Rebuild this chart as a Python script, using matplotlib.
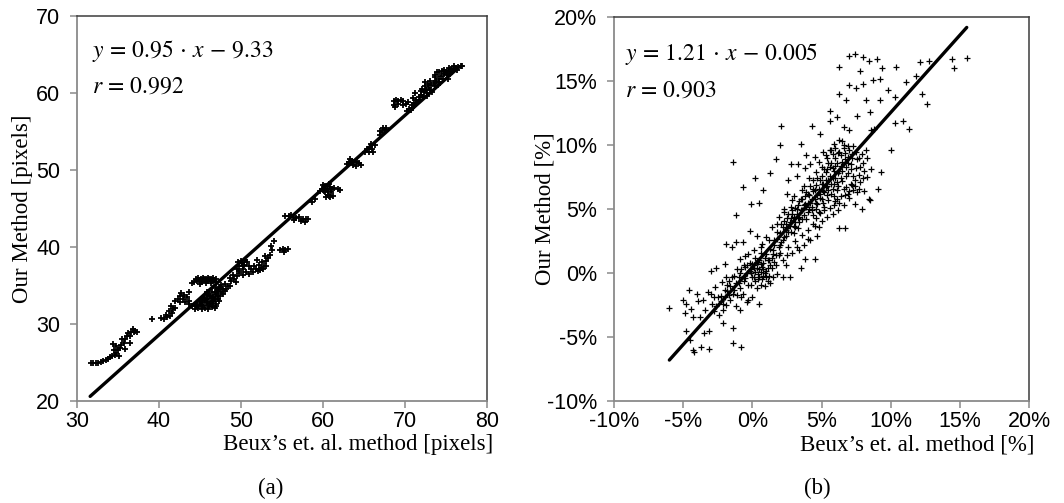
import matplotlib
matplotlib.use("Agg")
import matplotlib.pyplot as plt
from matplotlib.ticker import FuncFormatter

plt.rcParams["mathtext.fontset"] = "stix"

# ---- panel (a): pixels ----
a_x = [31.7, 32.0, 32.3, 32.6, 32.9, 33.2, 33.5, 33.8,
       34.0, 34.3, 34.6, 34.8, 34.5, 35.0, 35.2, 34.7, 35.4, 35.7, 35.5, 35.9, 36.1, 36.4, 36.2, 36.6,
       36.9, 37.1, 36.8, 37.3, 36.5, 35.9, 34.4, 35.1,
       39.2, 40.2, 40.6, 41.0, 40.8, 41.3, 41.6, 41.2, 41.7, 41.4, 42.0,
       42.3, 42.6, 42.9, 43.1, 42.7, 43.4, 43.7, 43.2, 42.5, 43.6, 42.0,
       44.3, 44.6, 44.9, 45.2, 45.5, 45.8, 46.1, 46.4, 46.7, 47.0, 45.0, 45.7, 46.3, 44.8, 45.4, 46.0,
       46.6, 44.0, 44.5, 45.1, 45.7, 46.3, 46.9,
       44.4, 44.8, 45.2, 45.6, 46.0, 46.4, 46.8, 44.6, 45.0, 45.4, 45.8, 46.2, 46.6, 47.0, 45.2, 45.6,
       46.0, 46.4, 46.8, 47.2, 45.8, 46.2, 46.6, 47.0, 47.4, 46.4, 46.8, 47.2, 47.6, 47.0, 47.4, 47.8,
       48.2, 47.6, 48.0, 48.4, 48.7, 44.0, 43.7,
       44.5, 45.3, 46.1, 46.9, 45.0, 45.9, 46.6, 47.3, 45.5, 46.4, 47.2, 46.0, 47.0, 47.8, 47.3, 48.0,
       45.3, 45.9,
       48.8, 49.2, 49.0, 49.5, 49.8, 50.2, 50.6, 51.0, 49.5, 49.8, 50.1, 50.4, 50.7, 51.0, 50.2, 49.6,
       50.5, 51.2, 49.4, 48.6, 49.7, 50.3, 50.0,
       51.5, 51.8, 52.1, 52.4, 52.7, 53.0, 52.2, 52.6, 53.1, 53.3, 52.9, 53.5, 53.8, 53.6, 54.0, 51.6,
       52.0, 52.3, 52.8,
       54.8, 55.1, 55.4, 55.7, 55.2,
       55.4, 55.9, 56.3, 56.7, 57.1, 57.5, 57.9, 58.2, 56.5, 57.3, 57.8, 56.1,
       58.7, 59.0,
       59.6, 59.9, 60.2, 60.5, 60.8, 61.1, 61.4, 60.3, 60.6, 60.9, 61.2, 60.4, 61.8, 62.1, 60.0, 60.7,
       60.1, 60.6, 61.0, 60.7,
       62.9, 63.2, 63.5, 63.8, 64.1, 64.4, 63.6, 64.0, 63.3, 64.6,
       65.1, 65.4, 65.7, 66.0, 66.3, 65.6, 66.1, 65.9,
       66.9, 67.2, 67.5, 67.7, 67.3, 67.0,
       68.6, 68.9, 69.2, 69.5, 69.8, 68.6, 68.8, 69.1,
       70.2, 70.5, 70.8, 70.4, 71.1, 71.4, 71.0, 71.7, 72.0, 72.3, 71.9, 72.6, 72.9, 72.4, 73.2, 73.5,
       73.0, 73.8, 74.1, 73.6, 74.4, 74.7, 74.2, 75.0, 75.3, 74.8, 75.6, 75.9, 76.2, 76.5, 76.8, 77.0,
       75.5, 73.3, 72.7, 71.6, 70.7, 74.0, 72.5, 73.9, 69.8, 70.1, 75.2, 71.2,
       70.9, 71.3, 71.8, 72.2, 72.7, 73.1, 73.6, 74.1, 74.6, 75.1, 75.7, 76.3, 76.0, 75.4, 74.5, 73.7,
       72.8, 72.1]
a_y = [25.0, 24.9, 25.0, 25.0, 25.1, 25.2, 25.3, 25.5,
       25.7, 25.9, 26.0, 26.3, 26.6, 26.6, 26.9, 27.2, 27.3, 27.6, 28.0, 28.1, 28.4, 28.5, 28.8, 28.9,
       28.9, 29.1, 29.3, 29.0, 27.6, 26.8, 27.4, 25.9,
       30.7, 30.8, 30.7, 30.9, 31.2, 31.1, 31.4, 31.7, 31.9, 32.3, 32.1,
       33.2, 33.6, 33.3, 33.8, 34.0, 33.5, 33.0, 32.8, 32.8, 34.2, 33.0,
       35.4, 35.6, 35.7, 35.5, 35.8, 35.6, 35.8, 35.6, 35.7, 35.5, 35.2, 35.3, 35.3, 36.0, 36.0, 36.0,
       36.0, 35.3, 35.8, 35.9, 35.9, 35.9, 35.9,
       32.0, 32.1, 32.0, 32.1, 32.0, 32.2, 32.1, 32.5, 32.6, 32.5, 32.7, 32.6, 32.7, 32.6, 33.0, 33.1,
       33.2, 33.0, 33.2, 33.3, 33.6, 33.7, 33.5, 33.8, 33.7, 34.1, 34.2, 34.3, 34.1, 34.7, 34.8, 34.6,
       34.5, 35.1, 35.2, 35.0, 34.9, 32.3, 32.6,
       32.3, 32.3, 32.4, 32.4, 32.9, 32.9, 33.0, 33.0, 33.4, 33.4, 33.6, 33.9, 34.0, 33.9, 34.5, 34.3,
       32.8, 34.2,
       35.6, 35.9, 36.4, 36.2, 36.6, 36.4, 36.7, 36.5, 37.2, 37.6, 37.9, 37.7, 38.0, 37.6, 37.2, 38.1,
       38.3, 37.2, 35.5, 36.0, 36.9, 37.5, 38.2,
       36.8, 37.1, 36.9, 37.3, 37.1, 37.5, 37.7, 38.0, 38.2, 38.6, 38.8, 39.0, 39.6, 40.2, 40.8, 37.6,
       38.3, 37.0, 37.6,
       39.6, 39.8, 39.6, 39.8, 39.3,
       44.1, 44.0, 43.9, 43.8, 43.9, 43.7, 43.6, 43.7, 43.5, 43.4, 43.3, 44.2,
       45.9, 46.3,
       47.3, 47.6, 47.9, 47.6, 47.8, 47.5, 47.7, 47.1, 46.8, 46.5, 46.7, 46.5, 47.6, 47.4, 48.1, 48.2,
       47.3, 47.3, 47.1, 46.7,
       50.8, 51.1, 51.2, 51.0, 51.1, 50.9, 50.6, 50.5, 51.4, 50.7,
       52.4, 52.7, 53.0, 52.8, 53.2, 52.3, 52.4, 53.4,
       54.6, 54.9, 55.2, 55.5, 55.5, 55.1,
       59.0, 59.1, 59.0, 59.1, 59.0, 58.4, 58.2, 58.6,
       57.7, 58.0, 58.4, 58.9, 58.7, 59.1, 59.4, 59.5, 59.8, 60.1, 60.3, 60.4, 60.7, 60.9, 61.0, 61.3,
       61.6, 61.6, 61.9, 62.1, 62.2, 62.5, 62.7, 62.7, 62.9, 63.0, 63.1, 63.2, 63.3, 63.4, 63.5, 63.5,
       62.5, 60.2, 59.6, 58.8, 57.8, 61.1, 61.4, 62.8, 58.4, 58.6, 61.9, 60.0,
       58.1, 58.6, 59.1, 59.5, 60.0, 60.4, 60.9, 61.4, 61.9, 62.3, 62.8, 63.0, 63.5, 63.3, 62.9, 62.4,
       61.2, 60.6]
a_fit_x = [31.6, 76.6]
a_fit_y = [20.6, 63.4]

# ---- panel (b): percent ----
b_x = [-6.0, -5.0, -4.8, -4.6, -4.4, -4.9, -4.3, -4.8, -4.5, -4.3, -4.2, -4.0, -3.9, -3.8, -3.7, -3.6,
       -3.5, -3.4, -3.2, -3.1, -3.1, -3.0, -3.0, -2.9, -2.8, -2.7, -2.6, -2.6, -2.5, -2.4, -2.3, -2.2,
       -2.1, -2.1, -2.0, -2.0, -1.9, -1.9, -1.8, -1.7, -1.6, -1.5, -1.5, -1.4, -1.4, -1.4, -1.3, -1.2,
       -1.2, -1.2, -1.1, -1.0, -0.9, -0.9, -0.8, -0.8, -0.7, -0.7, -0.7, -0.6, -0.5, -0.4, -0.3, -0.3,
       -0.2, -0.2, -0.1, -0.1, 0.0, 0.0, 0.1, 0.1, 0.2, 0.2, 0.3, 0.3, 0.4, 0.4, 0.5, 0.5,
       0.5, 0.6, 0.6, 0.7, 0.7, 0.8, 0.8, 0.9, 0.9, 1.0, 1.0, 1.1, 1.2, 1.3, 1.3, 1.4,
       1.4, 1.5, 1.5, 1.6, 1.7, 1.7, 1.8, 1.8, 1.9, 1.9, 2.0, 2.0, 2.1, 2.1, 2.2, 2.2,
       2.3, 2.3, 2.4, 2.4, 2.5, 2.5, 2.6, 2.6, 2.7, 2.7, 2.8, 2.8, 2.9, 2.9, 3.0, 3.0,
       3.1, 3.1, 3.2, 3.2, 3.3, 3.3, 3.4, 3.4, 3.5, 3.5, 3.5, 3.6, 3.6, 3.7, 3.7, 3.8,
       3.8, 3.8, 3.9, 3.9, 4.0, 4.0, 4.1, 4.1, 4.2, 4.2, 4.3, 4.3, 4.4, 4.4, 4.5, 4.5,
       4.5, 4.6, 4.6, 4.7, 4.7, 4.8, 4.8, 4.9, 4.9, 5.0, 5.0, 5.1, 5.1, 5.2, 5.2, 5.3,
       5.3, 5.4, 5.4, 5.5, 5.5, 5.6, 5.6, 5.6, 5.7, 5.7, 5.8, 5.8, 5.9, 5.9, 6.0, 6.0,
       6.1, 6.1, 6.2, 6.2, 6.3, 6.3, 6.3, 6.3, 6.4, 6.4, 6.5, 6.5, 6.6, 6.6, 6.7, 6.7,
       6.8, 6.8, 6.9, 6.9, 7.0, 7.0, 7.0, 7.0, 7.1, 7.2, 7.2, 7.3, 7.4, 7.4, 7.5, 7.5,
       7.6, 7.6, 7.7, 7.8, 7.8, 7.9, 8.0, 8.0, 8.0, 8.1, 8.2, 8.2, 8.3, 8.4, 8.4, 8.5,
       8.5, 8.6, 8.6, 8.7, 8.8, 9.0, 9.1, 9.2, 9.2, 9.3, 9.4, 9.8, 10.0, 10.3, 10.3, 10.4,
       10.9, 11.1, 11.3, 11.8, 12.1, 12.3, 12.6, 12.8, 14.4, 14.6, 15.5]
b_y = [-2.7, -2.1, -2.4, -1.3, -2.8, -3.1, -3.4, -4.5, -5.2, -6.0, -6.2, -1.6, -2.2, -3.4, -5.8, -2.1,
       -4.7, -2.9, -1.5, -4.5, -5.9, 0.2, -1.6, -2.4, -3.0, -1.1, 0.4, -2.6, -1.9, -3.3, -2.2, -0.7,
       -3.9, -2.9, 0.7, -1.3, 2.3, -2.5, -0.9, -1.7, -2.1, 2.0, -0.3, -4.3, -5.5, 8.7, -1.3, 2.4,
       4.5, -2.6, 0.3, -0.8, -2.9, 1.1, -5.8, -1.9, 2.4, -1.6, 6.7, 0.6, -0.4, -2.3, 1.5, -2.1,
       3.3, 0.2, 5.4, -0.9, -1.9, 0.7, -0.3, 1.8, 7.4, 0.1, 2.9, -1.2, 0.9, -0.5, 5.5, -2.4,
       0.3, 1.6, -0.9, 0.5, 2.3, 6.5, -0.2, 1.2, -1.0, 0.2, 2.8, -0.6, 1.0, 7.8, -0.8, 0.4,
       3.6, 1.8, -0.3, 2.6, 8.9, 0.6, 3.2, -0.1, 4.4, 1.4, 10.0, 2.2, 11.5, 3.8, -0.3, 1.0,
       5.0, 2.8, 3.4, 0.6, 6.2, 4.3, 2.0, 7.3, -0.3, 3.7, 5.2, 8.5, 1.6, 4.6, 3.1, 6.0,
       4.0, 2.5, 5.0, 7.6, 3.5, 8.5, 4.4, 1.8, 0.4, 5.8, 10.1, 3.0, 4.9, 6.8, 2.2, 1.1,
       5.4, 8.2, 4.2, 9.2, 6.2, 3.4, 5.0, 7.4, 2.6, 8.5, 11.5, 5.8, 4.5, 6.6, 9.1, 1.1,
       3.7, 5.5, 7.9, 6.1, 2.9, 8.7, 4.8, 5.9, 10.9, 7.0, 4.1, 9.5, 6.4, 8.1, 5.2, 7.3,
       9.2, 4.4, 6.8, 8.6, 5.7, 12.7, 11.9, 7.6, 9.6, 6.2, 4.6, 8.2, 7.0, 10.1, 5.6, 9.0,
       12.2, 6.5, 7.8, 4.9, 14.0, 16.1, 3.5, 9.5, 6.0, 8.4, 7.2, 10.3, 11.4, 5.3, 3.5, 8.9,
       13.5, 6.7, 9.9, 7.8, 17.0, 14.7, 11.2, 5.9, 8.5, 6.9, 9.3, 7.6, 17.1, 5.4, 14.5, 8.2,
       12.3, 6.3, 9.0, 15.8, 7.1, 5.0, 16.9, 14.8, 8.6, 6.4, 13.5, 9.6, 7.5, 16.6, 5.8, 12.6,
       5.7, 11.2, 8.1, 15.1, 11.3, 16.7, 6.6, 15.2, 13.5, 7.9, 16.0, 14.3, 9.6, 13.8, 11.7, 16.1,
       11.9, 14.9, 11.3, 15.4, 16.5, 14.0, 13.2, 16.6, 16.7, 16.0, 16.8]
# dense core of panel (b), close to the fitted line
b_core_x = [-2.3, -2.0, -1.8, -1.6, -1.4, -1.2, -1.0, -0.9, -0.8, -0.6, -0.5, -0.4, -0.3, -0.2, -0.1, 0.0,
            0.1, 0.2, 0.2, 0.3, 0.4, 0.5, 0.6, 0.7, 0.8, 0.9, 1.0, 1.1, 1.2, 1.3, 1.4, 1.6,
            1.7, 1.8, 2.0, 2.1, 2.2, 2.3, 2.4, 2.5, 2.6, 2.7, 2.8, 2.9, 3.0, 3.1, 3.2, 3.3,
            3.4, 3.5, 3.6, 3.7, 3.8, 3.9, 4.0, 4.1, 4.2, 4.3, 4.4, 4.5, 4.6, 4.7, 4.8, 4.9,
            5.0, 5.1, 5.2, 5.3, 5.4, 5.5, 5.6, 5.7, 5.8, 5.9, 6.0, 6.1, 6.2, 6.3, 6.4, 6.5,
            6.6, 6.7, 6.8, 6.9, 7.0, 7.1, 5.8, 5.4, 6.0, 6.6, 7.3, 7.6, 7.9, 6.9, 7.3, 7.7,
            8.0, 6.1, 5.6, 5.9, 4.9, 5.2, 4.4, 4.6,
            -1.7, -1.3, -0.9, -0.6, -0.4, -0.1, 0.1, 0.3, 0.5, 0.6, 0.8, 1.0, 1.1, 1.3, 1.5, 1.6,
            1.9, 2.0, 2.2, 2.4, 2.6, 2.8, 3.0, 3.1, 3.3, 3.4, 3.6, 3.7, 3.9, 4.0, 4.2, 4.3,
            4.5, 4.6, 4.7, 4.9, 5.0, 5.1, 5.3, 5.4, 5.5, 5.7, 5.8, 6.0, 6.1, 6.2, 6.4, 6.5,
            6.6, 6.8, 6.9, 7.1, 7.2, 7.4, 7.5, 7.7, 7.8, 8.1, 8.3, 6.3, 6.7, 7.0, 7.4, 5.9,
            5.6, 6.3, 5.0, 4.4, 3.6, 2.9, 2.3, 1.8, 1.2, 0.6, -0.5, -1.1, -2.1, -2.8, -1.9, 2.5,
            3.2, 4.0, 4.8]
b_core_y = [-1.8, -1.9, -1.4, -1.0, -1.6, -0.8, -0.3, -1.2, 0.3, -0.6, 0.5, 0.0, -0.9, 0.8, 0.3, -0.3,
            0.6, -0.6, 1.2, 0.4, -0.1, 1.0, 0.1, -0.5, 0.8, 0.0, 1.5, 0.4, -0.2, 1.9, 1.2, 2.2,
            1.4, 2.7, 3.1, 2.4, 3.6, 4.1, 2.9, 3.5, 4.6, 4.0, 3.2, 4.9, 4.4, 3.6, 4.6, 5.3,
            4.0, 4.9, 5.8, 4.5, 6.0, 5.2, 4.8, 6.1, 5.5, 4.9, 6.4, 5.8, 6.9, 5.4, 6.6, 7.3,
            5.8, 7.0, 6.3, 7.9, 6.1, 7.3, 8.3, 7.0, 6.6, 8.0, 7.4, 8.6, 6.8, 8.0, 9.2, 8.0,
            6.6, 9.4, 7.6, 8.6, 9.6, 7.0, 9.3, 9.0, 9.8, 10.0, 9.9, 8.9, 9.3, 6.2, 6.5, 7.7,
            7.4, 5.8, 5.1, 6.0, 4.7, 4.9, 3.8, 4.3,
            -0.6, -0.2, 0.0, -0.2, 0.6, 0.0, 0.4, 0.9, -0.3, 0.7, 0.3, -0.3, 1.0, 0.6, 1.5, 0.9,
            2.0, 1.6, 2.6, 3.8, 3.2, 4.3, 3.7, 5.1, 4.3, 5.6, 4.2, 5.3, 6.3, 5.5, 6.8, 5.2,
            6.5, 5.0, 7.4, 6.2, 7.6, 5.5, 6.7, 8.1, 6.5, 8.6, 7.4, 8.4, 7.1, 9.4, 7.4, 8.7,
            9.8, 8.3, 9.1, 8.1, 9.0, 7.3, 9.5, 6.6, 8.3, 8.0, 9.0, 5.5, 6.1, 6.4, 6.8, 5.3,
            9.6, 10.4, 8.3, 7.3, 6.5, 5.7, 4.8, 3.8, 2.6, 2.0, 1.3, -1.7, -2.4, -1.9, -0.3, 1.4,
            2.0, 2.7, 3.6]
b_fit_x = [-6.0, 15.5]
b_fit_y = [-6.8, 19.2]

serif = "Liberation Serif"
sans = "Liberation Sans"
spine_light = "#8a8a8a"
spine_dark = "#3c3c3c"


def style(ax):
    for s in ["left", "bottom"]:
        ax.spines[s].set_color(spine_light)
        ax.spines[s].set_linewidth(1.3)
    for s in ["top", "right"]:
        ax.spines[s].set_color(spine_dark)
        ax.spines[s].set_linewidth(1.1)
    ax.tick_params(axis="both", direction="out", length=5, width=1.1, color=spine_light,
                   labelsize=15.5, labelcolor="black")
    ax.tick_params(axis="y", pad=7)
    ax.tick_params(axis="x", pad=2)
    for lab in ax.get_xticklabels() + ax.get_yticklabels():
        lab.set_family(sans)


fig = plt.figure(figsize=(10.64, 5.03), dpi=100)
ax1 = fig.add_axes([0.0724, 0.2028, 0.3853, 0.7650])
ax2 = fig.add_axes([0.5771, 0.2028, 0.3900, 0.7630])

# (a)
ax1.plot(a_x, a_y, linestyle="none", marker="+", ms=5, mew=1.3, color="black")
ax1.plot(a_fit_x, a_fit_y, color="black", lw=2.4, solid_capstyle="round")
ax1.set_xlim(30, 80)
ax1.set_ylim(20, 70)
ax1.set_xticks(range(30, 81, 10))
ax1.set_yticks(range(20, 71, 10))
style(ax1)
ax1.set_xlabel("Beux’s et. al. method [pixels]", family=serif, fontsize=16.5, ha="right", va="center")
ax1.xaxis.set_label_coords(1.015, -0.114)
ax1.set_ylabel("Our Method [pixels]", family=serif, fontsize=16.5, va="center")
ax1.yaxis.set_label_coords(-0.132, 0.5)
ax1.text(0.037, 0.91, r"$y\,=\,0.95\,\cdot\,x\,-\,9.33$", transform=ax1.transAxes,
         fontsize=17, va="center")
ax1.text(0.037, 0.82, r"$r\,=\,0.992$", transform=ax1.transAxes, fontsize=17, va="center")

# (b)
ax2.plot(b_x, b_y, linestyle="none", marker="+", ms=4, mew=0.9, color="black")
ax2.plot(b_core_x, b_core_y, linestyle="none", marker="+", ms=4, mew=0.9, color="black")
ax2.plot(b_fit_x, b_fit_y, color="black", lw=2.4, solid_capstyle="round")
ax2.set_xlim(-10, 20)
ax2.set_ylim(-10, 20)
ax2.set_xticks(range(-10, 21, 5))
ax2.set_yticks(range(-10, 21, 5))
pct = FuncFormatter(lambda v, p: f"{v:.0f}%")
ax2.xaxis.set_major_formatter(pct)
ax2.yaxis.set_major_formatter(pct)
style(ax2)
ax2.set_xlabel("Beux’s et. al. method [%]", family=serif, fontsize=16.5, ha="right", va="center")
ax2.xaxis.set_label_coords(1.014, -0.114)
ax2.set_ylabel("Our Method [%]", family=serif, fontsize=16.5, va="center")
ax2.yaxis.set_label_coords(-0.166, 0.5)
ax2.text(0.027, 0.905, r"$y\,=\,1.21\,\cdot\,x\,-\,0.005$", transform=ax2.transAxes,
         fontsize=17, va="center")
ax2.text(0.027, 0.81, r"$r\,=\,0.903$", transform=ax2.transAxes, fontsize=17, va="center")

fig.text(271 / 1064, 1 - 488 / 503, "(a)", family=serif, fontsize=16.5, ha="center", va="center")
fig.text(817 / 1064, 1 - 488 / 503, "(b)", family=serif, fontsize=16.5, ha="center", va="center")

fig.savefig("out.png", dpi=100)
